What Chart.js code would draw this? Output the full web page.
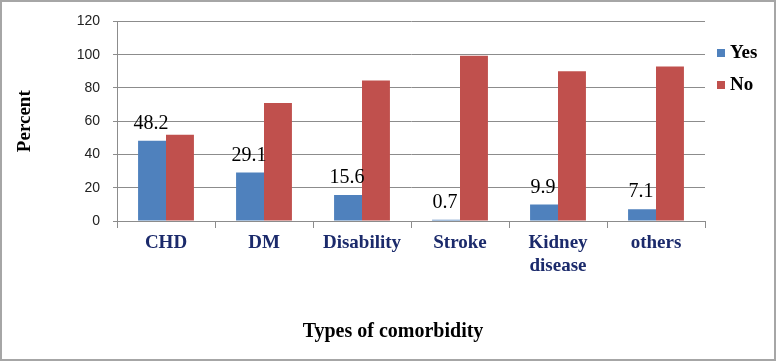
<!DOCTYPE html>
<html lang="en">
<head>
  <meta charset="UTF-8">
  <title>Types of comorbidity</title>
  <script src="https://cdn.jsdelivr.net/npm/chart.js@4.4.0/dist/chart.umd.min.js"></script>
  <style>
    html, body { margin: 0; padding: 0; background: #fff; }
    #wrap { position: relative; width: 776px; height: 361px; }
    #frame { position: absolute; left: 0; top: 0; width: 772px; height: 357px; border: 2px solid #a6a6a6; pointer-events: none; }
  </style>
</head>
<body>
<div id="wrap">
  <canvas id="chart" width="776" height="361"></canvas>
  <div id="frame"></div>
</div>

<script>
// data
const categories = ['CHD', 'DM', 'Disability', 'Stroke', ['Kidney', 'disease'], 'others'];
const yesValues = [48.2, 29.1, 15.6, 0.7, 9.9, 7.1];
const noValues = [51.8, 70.9, 84.4, 99.3, 90.1, 92.9];
const seriesNames = ['Yes', 'No'];
const yTicks = [0, 20, 40, 60, 80, 100, 120];
const xTitle = 'Types of comorbidity';

const times = "'Liberation Serif', 'Times New Roman', serif";

// value labels over the Yes bars
const yesLabels = {
  id: 'yesLabels',
  afterDatasetsDraw(chart) {
    const ctx = chart.ctx;
    const meta = chart.getDatasetMeta(0);
    ctx.save();
    ctx.font = '20px ' + times;
    ctx.fillStyle = '#000';
    ctx.textAlign = 'center';
    ctx.textBaseline = 'middle';
    meta.data.forEach((bar, i) => {
      ctx.fillText(String(yesValues[i]), bar.x - 1, bar.y - 17);
    });
    ctx.restore();
  }
};

// legend at the right and the axis title centred on the whole picture
const sideLegend = {
  id: 'sideLegend',
  afterDraw(chart) {
    const ctx = chart.ctx;
    const x = chart.chartArea.right + 12;
    ctx.save();
    ctx.font = 'bold 19px ' + times;
    ctx.textBaseline = 'middle';
    chart.data.datasets.forEach((ds, i) => {
      const y = 53 + i * 32;
      ctx.fillStyle = ds.backgroundColor;
      ctx.fillRect(x, y - 4, 8, 8);
      ctx.fillStyle = '#000';
      ctx.fillText(ds.label, x + 13, y);
    });
    ctx.font = 'bold 20px ' + times;
    ctx.textAlign = 'center';
    ctx.fillText(xTitle, 393, 332);
    ctx.restore();
  }
};

new Chart(document.getElementById('chart'), {
  type: 'bar',
  data: {
    labels: categories,
    datasets: [
      { label: seriesNames[0], data: yesValues, backgroundColor: '#4f81bd' },
      { label: seriesNames[1], data: noValues, backgroundColor: '#c0504d' }
    ]
  },
  options: {
    responsive: false,
    animation: false,
    events: [],
    layout: { padding: { left: 0, right: 71, top: 16, bottom: 0 } },
    datasets: { bar: { categoryPercentage: 0.57, barPercentage: 1 } },
    plugins: {
      legend: { display: false },
      tooltip: { enabled: false }
    },
    scales: {
      x: {
        afterFit(scale) { scale.height = 140; },
        grid: { drawOnChartArea: false, drawTicks: true, tickLength: 7, color: '#8c8c8c', offset: true },
        border: { color: '#8c8c8c' },
        ticks: {
          color: '#1b2a6b',
          padding: 4,
          maxRotation: 0,
          autoSkip: false,
          font: { family: times, size: 19, weight: 'bold', lineHeight: 1.2 }
        }
      },
      y: {
        min: 0,
        max: 120,
        afterFit(scale) { scale.width = 117; },
        afterBuildTicks(scale) { scale.ticks = yTicks.map(v => ({ value: v })); },
        grid: { color: '#8c8c8c', tickLength: 4 },
        border: { color: '#8c8c8c' },
        ticks: {
          color: '#222',
          padding: 13,
          font: { family: "'Liberation Sans', Arial, sans-serif", size: 14 }
        },
        title: {
          display: true,
          text: 'Percent',
          color: '#000',
          padding: { top: 14, bottom: 0 },
          font: { family: times, size: 19, weight: 'bold', lineHeight: 1.2 }
        }
      }
    }
  },
  plugins: [yesLabels, sideLegend]
});
</script>
</body>
</html>
